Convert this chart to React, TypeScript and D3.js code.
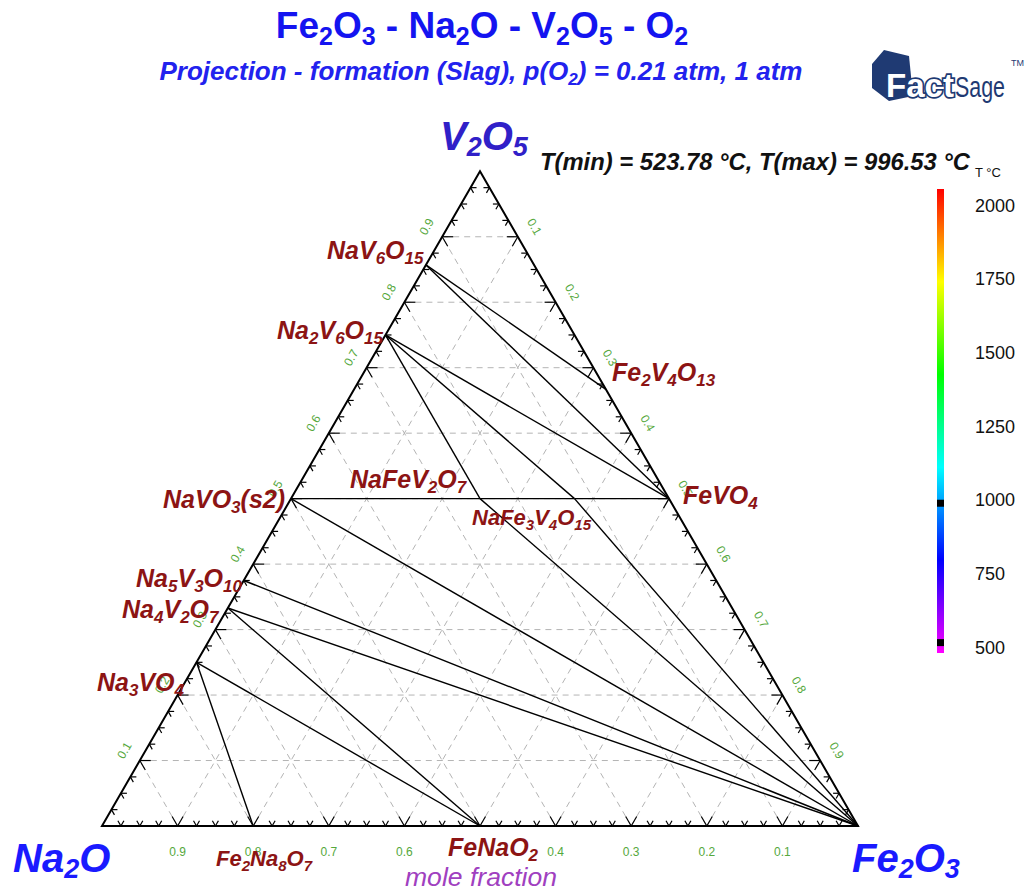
import React from "react";
import * as d3 from "d3";

// ---------------- DATA ----------------
const compoundIds = ["NaV6O15", "Na2V6O15", "NaVO3", "Na5V3O10", "Na4V2O7", "Na3VO4", "Fe2Na8O7", "FeNaO2", "FeVO4", "Fe2V4O13", "NaFeV2O7", "NaFe3V4O15", "Fe2O3"];
const compoundLabels = ["NaV_6O_15", "Na_2V_6O_15", "NaVO_3(s2)", "Na_5V_3O_10", "Na_4V_2O_7", "Na_3VO_4", "Fe_2Na_8O_7", "FeNaO_2", "FeVO_4", "Fe_2V_4O_13", "NaFeV_2O_7", "NaFe_3V_4O_15", ""];
// mole fractions (Na2O, Fe2O3, V2O5)
const compNa2O = [0.143, 0.25, 0.5, 0.625, 0.667, 0.75, 0.8, 0.5, 0, 0, 0.25, 0.125, 0];
const compFe2O3 = [0, 0, 0, 0, 0, 0, 0.2, 0.5, 0.5, 0.333, 0.25, 0.375, 1];
const compV2O5 = [0.857, 0.75, 0.5, 0.375, 0.333, 0.25, 0, 0, 0.5, 0.667, 0.5, 0.5, 0];

const tieFrom = ["NaV6O15", "NaV6O15", "Na2V6O15", "Na2V6O15", "Na2V6O15", "NaVO3", "NaFeV2O7", "NaFe3V4O15", "NaFe3V4O15", "NaFeV2O7", "NaVO3", "Na5V3O10", "Na4V2O7", "Na4V2O7", "Na3VO4", "Na3VO4"];
const tieTo = ["Fe2V4O13", "FeVO4", "FeVO4", "NaFe3V4O15", "NaFeV2O7", "NaFeV2O7", "NaFe3V4O15", "FeVO4", "Fe2O3", "Fe2O3", "Fe2O3", "Fe2O3", "Fe2O3", "FeNaO2", "FeNaO2", "Fe2Na8O7"];

const axisTicks = [0.1, 0.2, 0.3, 0.4, 0.5, 0.6, 0.7, 0.8, 0.9];
const axisTickLabels = ["0.1", "0.2", "0.3", "0.4", "0.5", "0.6", "0.7", "0.8", "0.9"];
const colorbarTicks = [2000, 1750, 1500, 1250, 1000, 750, 500];
const tMin = 523.78;
const tMax = 996.53;

// ---------------- LAYOUT ----------------
const W = 1026, H = 891;
const LEFT = 102, RIGHT = 858, BASE = 826;
const TOP = BASE - (RIGHT - LEFT) * Math.sqrt(3) / 2;
const FONT = "'Liberation Sans', Arial, Helvetica, sans-serif";

const sx = d3.scaleLinear().domain([0, 1]).range([LEFT, RIGHT]);
const sy = d3.scaleLinear().domain([0, 1]).range([BASE, TOP]);
const pt = (na: number, fe: number, v: number): [number, number] => {
  const s = na + fe + v;
  return [sx((fe + v / 2) / s), sy(v / s)];
};

// label anchors (start x, baseline y, font size) - layout only
const labelPos: Record<string, [number, number, number]> = {
  NaV6O15: [327, 259, 25],
  Na2V6O15: [277, 339, 25],
  NaVO3: [163, 508, 25],
  Na5V3O10: [136, 587, 25],
  Na4V2O7: [122, 618, 25],
  Na3VO4: [97, 691, 25],
  Fe2Na8O7: [216, 866, 22],
  FeNaO2: [448, 856, 25],
  FeVO4: [683, 504, 25],
  Fe2V4O13: [612, 381, 25],
  NaFeV2O7: [350, 488, 25],
  NaFe3V4O15: [472, 525, 22],
};

function Formula(props: any) {
  const { text, x, y, size, subSize, subDy, fill, italic, bold, anchor, extra } = props;
  const re = /_(\d+)|([^_]+)/g;
  const spans: any[] = [];
  let m: any;
  let prevSub = false;
  let i = 0;
  while ((m = re.exec(text))) {
    if (m[1]) {
      spans.push(<tspan key={i++} fontSize={subSize} dy={prevSub ? 0 : subDy}>{m[1]}</tspan>);
      prevSub = true;
    } else {
      spans.push(<tspan key={i++} dy={prevSub ? -subDy : 0}>{m[2]}</tspan>);
      prevSub = false;
    }
  }
  return (
    <text x={x} y={y} fontSize={size} fill={fill} fontFamily={FONT}
      fontStyle={italic ? "italic" : "normal"} fontWeight={bold ? "bold" : "normal"}
      textAnchor={anchor || "start"} {...(extra || {})}>
      {spans}
    </text>
  );
}

export default function App() {
  const idx = (id: string) => compoundIds.indexOf(id);
  const cpt = (id: string) => { const k = idx(id); return pt(compNa2O[k], compFe2O3[k], compV2O5[k]); };

  // grid lines
  const grid: any[] = [];
  axisTicks.forEach((v, i) => {
    const a = pt(1 - v, 0, v), b = pt(0, 1 - v, v);
    grid.push(<line key={"gv" + i} x1={a[0]} y1={a[1]} x2={b[0]} y2={b[1]} />);
    const c = pt(v, 1 - v, 0), d = pt(v, 0, 1 - v);
    grid.push(<line key={"gn" + i} x1={c[0]} y1={c[1]} x2={d[0]} y2={d[1]} />);
    const e = pt(1 - v, v, 0), f = pt(0, v, 1 - v);
    grid.push(<line key={"gf" + i} x1={e[0]} y1={e[1]} x2={f[0]} y2={f[1]} />);
  });

  // ticks
  const ticks: any[] = [];
  const A = pt(1, 0, 0), B = pt(0, 1, 0), C = pt(0, 0, 1);
  const unit = (p: number[], q: number[]) => { const dx = q[0] - p[0], dy = q[1] - p[1]; const l = Math.hypot(dx, dy); return [dx / l, dy / l]; };
  const dirs = {
    bottom: [unit(B, C), unit(A, C)],
    left: [unit(A, B), unit(C, B)],
    right: [unit(B, A), unit(C, A)],
  };
  for (let k = 1; k < 40; k++) {
    const t = k / 40;
    const major = k % 4 === 0;
    const len = major ? 11 : 6;
    const pts: [string, number[]][] = [
      ["bottom", pt(1 - t, t, 0)],
      ["left", pt(1 - t, 0, t)],
      ["right", pt(0, t, 1 - t)],
    ];
    pts.forEach(([side, p]) => {
      (dirs as any)[side].forEach((d: number[], j: number) => {
        ticks.push(<line key={side + k + "_" + j} x1={p[0]} y1={p[1]} x2={p[0] + d[0] * len} y2={p[1] + d[1] * len} />);
      });
    });
  }

  // tick labels (bottom 0.5 is hidden under the FeNaO2 label in the reference)
  const tickLabels: any[] = [];
  axisTicks.forEach((v, i) => {
    const pb = pt(v, 1 - v, 0);
    if (axisTickLabels[i] !== "0.5") {
      tickLabels.push(<text key={"tb" + i} x={pb[0]} y={BASE + 30} textAnchor="middle">{axisTickLabels[i]}</text>);
    }
    const pl = pt(1 - v, 0, v);
    tickLabels.push(<text key={"tl" + i} transform={`translate(${pl[0] - 12},${pl[1] - 8}) rotate(-60)`} textAnchor="middle">{axisTickLabels[i]}</text>);
    const pr = pt(0, v, 1 - v);
    tickLabels.push(<text key={"tr" + i} transform={`translate(${pr[0] + 13},${pr[1] - 8}) rotate(60)`} textAnchor="middle">{axisTickLabels[i]}</text>);
  });

  // colorbar
  const cb = d3.scaleLinear().domain([480, 2054]).range([653, 189]);
  const cbX = 937, cbW = 7;
  const hue = d3.scaleLinear().domain([2054, 480]).range([0, 300]);
  const stops = d3.range(0, 11).map(i => {
    const T = 2054 - i * (2054 - 480) / 10;
    return { off: i / 10, col: d3.hsl(hue(T), 1, 0.5).formatHex() };
  });

  return (
    <svg width={W} height={H} style={{ position: "absolute", left: 0, top: 0, background: "#fff" }}>
      <defs>
        <linearGradient id="cbgrad" x1="0" y1="0" x2="0" y2="1">
          {stops.map((s, i) => <stop key={i} offset={s.off} stopColor={s.col} />)}
        </linearGradient>
      </defs>
      <rect x={0} y={0} width={W} height={H} fill="#fff" />

      {/* Title */}
      <Formula text={"Fe_2O_3 - Na_2O - V_2O_5 - O_2"} x={482} y={38} size={37} subSize={25} subDy={7} fill="#1414f0" bold anchor="middle" />
      <Formula text={"Projection - formation (Slag), p(O_2) = 0.21 atm, 1 atm"} x={481} y={80} size={26} subSize={17} subDy={5} fill="#2222ee" bold italic anchor="middle" />

      {/* FactSage logo */}
      <g>
        <polygon points="872,64 884,50 909,56 913,96 889,101 872,88" fill="#1f3a73" />
        <text x={886} y={97} fontFamily={FONT} fontWeight="bold" fontSize={34} fill="#ffffff" stroke="#1f3a73" strokeWidth={3.5} paintOrder="stroke" textLength={68} lengthAdjust="spacingAndGlyphs">Fact</text>
        <text x={955} y={97} fontFamily={FONT} fontSize={30} fill="#1f3a73" textLength={50} lengthAdjust="spacingAndGlyphs">Sage</text>
        <text x={1011} y={66} fontFamily={FONT} fontSize={9} fill="#1f3a73">TM</text>
      </g>

      {/* grid */}
      <g stroke="#b4b4b4" strokeWidth={1} strokeDasharray="6,5" fill="none">{grid}</g>

      {/* ticks */}
      <g stroke="#000" strokeWidth={1.2}>{ticks}</g>

      {/* triangle */}
      <polygon points={`${A[0]},${A[1]} ${B[0]},${B[1]} ${C[0]},${C[1]}`} fill="none" stroke="#000" strokeWidth={2} />

      {/* tie lines */}
      <g stroke="#000" strokeWidth={1.4}>
        {tieFrom.map((f, i) => {
          const p = cpt(f), q = cpt(tieTo[i]);
          return <line key={"tie" + i} x1={p[0]} y1={p[1]} x2={q[0]} y2={q[1]} />;
        })}
      </g>

      {/* tick labels */}
      <g fontFamily={FONT} fontSize={12} fill="#55a83c">{tickLabels}</g>

      {/* compound labels */}
      {compoundIds.map((id, i) => compoundLabels[i] ? (
        <Formula key={"lab" + id} text={compoundLabels[i]} x={labelPos[id][0]} y={labelPos[id][1]} size={labelPos[id][2]} subSize={Math.round(labelPos[id][2] * 0.68)} subDy={5} fill="#8c1414" bold italic />
      ) : null)}
      <text x={405} y={886} fontFamily={FONT} fontStyle="italic" fontSize={25} fill="#a040c0" textLength={152} lengthAdjust="spacingAndGlyphs">mole fraction</text>

      {/* corner labels */}
      <Formula text={"Na_2O"} x={13} y={872} size={40} subSize={27} subDy={6} fill="#1a1aff" bold italic />
      <Formula text={"Fe_2O_3"} x={852} y={872} size={40} subSize={27} subDy={6} fill="#1a1aff" bold italic />
      <Formula text={"V_2O_5"} x={440} y={150} size={40} subSize={27} subDy={6} fill="#3020c8" bold italic />

      {/* T range text */}
      <text x={540} y={170} fontFamily={FONT} fontWeight="bold" fontStyle="italic" fontSize={23} fill="#111" textLength={430} lengthAdjust="spacingAndGlyphs">
        {`T(min) = ${tMin.toFixed(2)} °C, T(max) = ${tMax.toFixed(2)} °C`}
      </text>
      <text x={975} y={177} fontFamily={FONT} fontSize={13} fill="#111">T °C</text>

      {/* colorbar */}
      <rect x={cbX} y={cb(2054)} width={cbW} height={cb(480) - cb(2054)} fill="url(#cbgrad)" />
      <rect x={cbX} y={cb(tMax) - 1} width={cbW} height={7} fill="#000" />
      <rect x={cbX} y={cb(tMin) - 1} width={cbW} height={7} fill="#000" />
      <g fontFamily={FONT} fontSize={18} fill="#111">
        {colorbarTicks.map((t, i) => {
          const yy = 205 + (2000 - t) / 250 * 73.7;
          return <text key={"cbt" + i} x={975} y={yy + 6.5}>{t}</text>;
        })}
      </g>
    </svg>
  );
}
